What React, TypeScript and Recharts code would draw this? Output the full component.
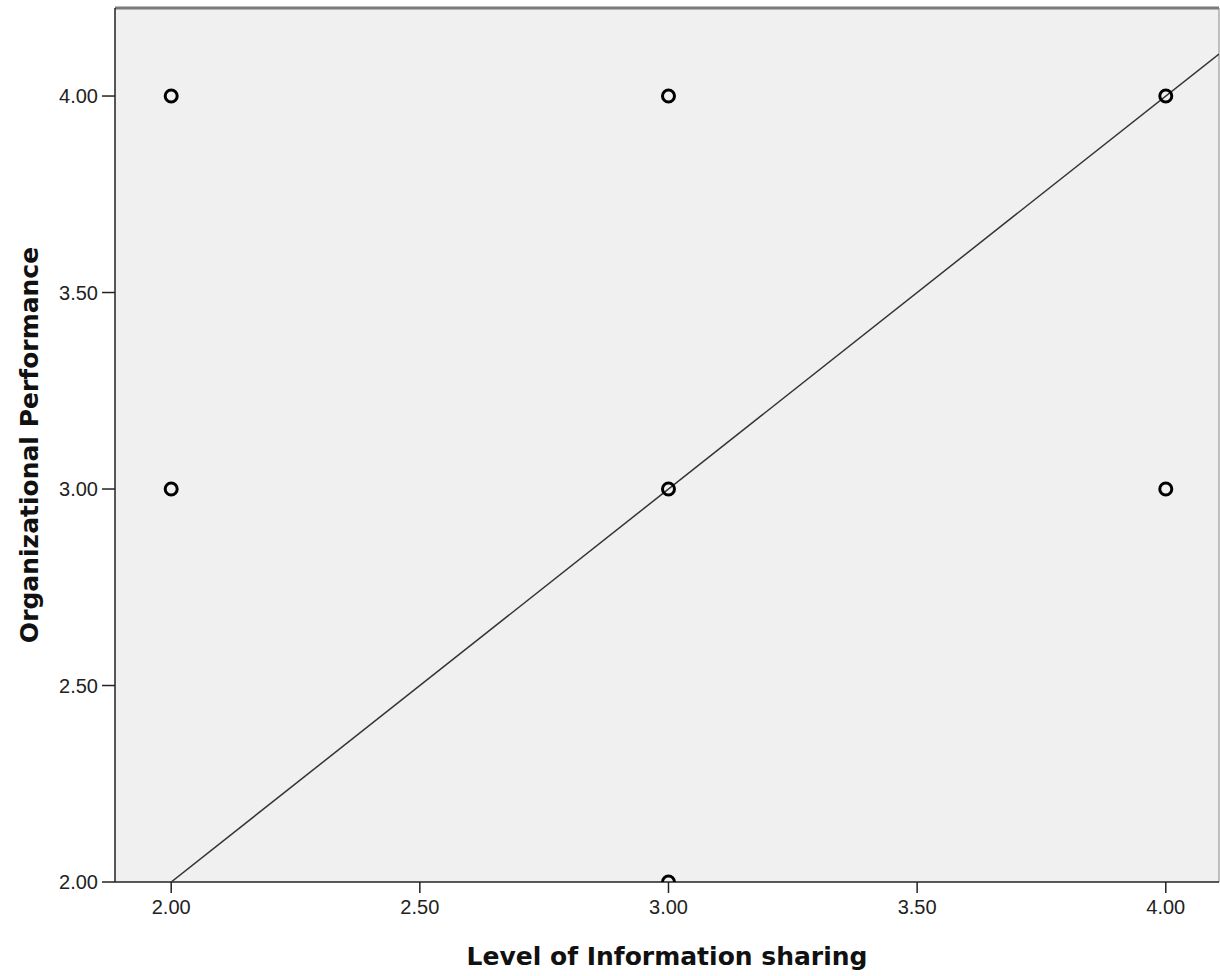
import React from "react";
import {
  ScatterChart,
  Scatter,
  XAxis,
  YAxis,
  CartesianGrid,
  ReferenceLine,
} from "recharts";

const infoSharing = [2, 2, 3, 3, 3, 4, 4];
const orgPerformance = [4, 3, 4, 3, 2, 4, 3];

const fitX = [2, 4.107];
const fitY = [2, 4.107];

const xTicks = [2, 2.5, 3, 3.5, 4];
const yTicks = [2, 2.5, 3, 3.5, 4];

const points = infoSharing.map((x, i) => ({ x, y: orgPerformance[i] }));
const fitLine = fitX.map((x, i) => ({ x, y: fitY[i] }));

const tickStyle = { fontSize: 20, fill: "#222", fontFamily: "Liberation Sans, Arial, sans-serif" };
const titleStyle = {
  fontSize: 25,
  fontWeight: "bold",
  fill: "#111",
  fontFamily: "DejaVu Sans, Verdana, sans-serif",
};

const Ring = (props: any) => {
  const { cx, cy } = props;
  return <circle cx={cx} cy={cy} r={6} fill="none" stroke="#000" strokeWidth={3} />;
};

export default function App() {
  return (
    <div style={{ position: "absolute", left: 0, top: 0, background: "#fff" }}>
      <ScatterChart
        width={1220}
        height={976}
        margin={{ top: 8, right: 1, left: 0, bottom: 0 }}
      >
        <CartesianGrid fill="#f0f0f0" horizontal={false} vertical={false} />
        <XAxis
          type="number"
          dataKey="x"
          domain={[1.887, 4.107]}
          ticks={xTicks}
          tickFormatter={(v: number) => v.toFixed(2)}
          tick={tickStyle}
          tickSize={11}
          tickMargin={7}
          stroke="#222"
          strokeWidth={1.5}
          height={94}
          allowDataOverflow
          label={{
            value: "Level of Information sharing",
            position: "insideBottom",
            offset: 11,
            style: titleStyle,
          }}
        />
        <YAxis
          type="number"
          dataKey="y"
          domain={[2, 4.224]}
          ticks={yTicks}
          tickFormatter={(v: number) => v.toFixed(2)}
          tick={tickStyle}
          tickSize={13}
          tickMargin={4}
          stroke="#222"
          strokeWidth={1.5}
          width={115}
          allowDataOverflow
          label={{
            value: "Organizational Performance",
            angle: -90,
            position: "insideLeft",
            offset: 29,
            style: { ...titleStyle, textAnchor: "middle" },
          }}
        />
        <ReferenceLine y={4.224} stroke="#7a7a7a" strokeWidth={3} />
        <ReferenceLine x={4.107} stroke="#888" strokeWidth={1} />
        <Scatter
          data={fitLine}
          line={{ stroke: "#333", strokeWidth: 1.5 }}
          shape={() => null}
          isAnimationActive={false}
        />
        <Scatter data={points} shape={Ring} isAnimationActive={false} />
      </ScatterChart>
    </div>
  );
}
